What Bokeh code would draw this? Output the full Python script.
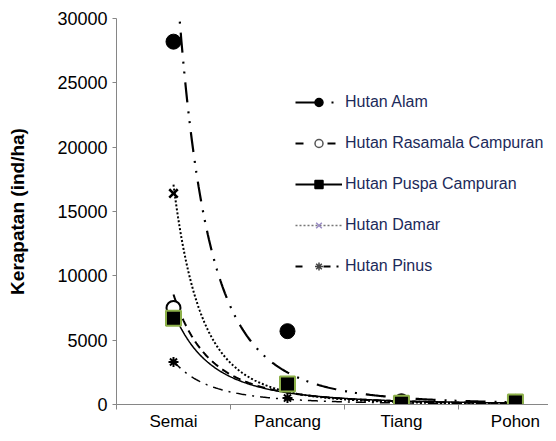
import numpy as np
from bokeh.plotting import figure
from bokeh.models import (ColumnDataSource, FixedTicker, Range1d, Legend, LegendItem)
from bokeh.embed import file_html
from bokeh.resources import INLINE

# ---- data ----
categories = ["Semai", "Pancang", "Tiang", "Pohon"]
x_pos = [1, 2, 3, 4]
hutan_alam = [28200, 5700, 250, 200]
hutan_rasamala = [7500, 1500, 150, 120]
hutan_puspa = [6700, 1600, 100, 200]
hutan_damar = [16400, 1400, 100, 80]
hutan_pinus = [3300, 500, 80, 60]
y_ticks = [0, 5000, 10000, 15000, 20000, 25000, 30000]
series_names = ["Hutan Alam", "Hutan Rasamala Campuran", "Hutan Puspa Campuran",
                "Hutan Damar", "Hutan Pinus"]
y_title = "Kerapatan (ind/ha)"

p = figure(width=548, height=433, output_backend="svg", toolbar_location=None,
           x_range=Range1d(0.5, 4.29), y_range=Range1d(0, 30000),
           min_border_left=116, min_border_right=0, min_border_top=18,
           min_border_bottom=27)
p.outline_line_color = None
p.xgrid.visible = False
p.ygrid.visible = False
p.background_fill_color = "white"
p.border_fill_color = "white"

# ---- axes ----
p.xaxis.ticker = FixedTicker(ticks=x_pos, minor_ticks=[0.5, 1.5, 2.5, 3.5, 4.5])
p.xaxis.major_label_overrides = {x: c for x, c in zip(x_pos, categories)}
p.xaxis.major_tick_out = 0
p.xaxis.major_tick_in = 0
p.xaxis.minor_tick_out = 5
p.xaxis.minor_tick_in = 0
p.xaxis.minor_tick_line_color = "#868686"
p.xaxis.axis_line_color = "#868686"
p.xaxis.major_label_text_font = "Liberation Sans"
p.xaxis.major_label_text_font_size = "17px"
p.xaxis.major_label_text_color = "black"
p.xaxis.major_label_standoff = 2

p.yaxis.ticker = FixedTicker(ticks=y_ticks, minor_ticks=[])
p.yaxis.major_label_overrides = {t: str(t) for t in y_ticks}
p.yaxis.axis_line_color = "#868686"
p.yaxis.major_tick_line_color = "#868686"
p.yaxis.major_tick_out = 4
p.yaxis.major_tick_in = 0
p.yaxis.minor_tick_out = 0
p.yaxis.minor_tick_in = 0
p.yaxis.major_label_text_font = "Liberation Sans"
p.yaxis.major_label_text_font_size = "18px"
p.yaxis.major_label_text_color = "black"
p.yaxis.major_label_standoff = 5
p.yaxis.axis_label = y_title
p.yaxis.axis_label_text_font = "Liberation Sans"
p.yaxis.axis_label_text_font_style = "bold"
p.yaxis.axis_label_text_font_size = "19px"
p.yaxis.axis_label_text_color = "black"
p.yaxis.axis_label_standoff = 26

# ---- power trendlines (least squares on log-log) ----
xs = np.linspace(1, 4, 300)

def trend(vals):
    b, ln_a = np.polyfit(np.log(np.array(x_pos, float)), np.log(np.array(vals, float)), 1)
    return np.exp(ln_a) * xs ** b

p.line(xs, trend(hutan_alam), line_color="black", line_width=2.2, line_dash="20 9 2 8 2 9")
p.line(xs, trend(hutan_rasamala), line_color="black", line_width=2, line_dash="8 5")
p.line(xs, trend(hutan_damar), line_color="black", line_width=2, line_dash="2 2")
p.line(xs, trend(hutan_pinus), line_color="black", line_width=1.5, line_dash="10 6 2 6")
p.line(xs, trend(hutan_puspa), line_color="black", line_width=1.5)

# ---- markers ----
p.scatter(x_pos, hutan_alam, marker="circle", size=15, fill_color="black", line_color="black")
p.scatter(x_pos, hutan_rasamala, marker="circle", size=14, fill_color="white",
          line_color="black", line_width=2)
p.scatter(x_pos, hutan_damar, marker="x", size=12, line_color="black", line_width=2.5)
p.scatter(x_pos, hutan_pinus, marker="asterisk", size=10, line_color="black", line_width=2)
p.scatter(x_pos, hutan_puspa, marker="square", size=15, fill_color="black",
          line_color="#8db04a", line_width=2)

# ---- legend-only renderers (no visible data) ----
proxy = dict(x=[np.nan], y=[np.nan])
leg_specs = [
    dict(dash="20 16 2 20", lw=2, lc="black", marker="circle", fc="black", mc="black"),
    dict(dash="8 24 8 30", lw=2, lc="black", marker="circle", fc="white", mc="#555555"),
    dict(dash="solid", lw=2, lc="black", marker="square", fc="black", mc="black"),
    dict(dash="2 2", lw=1.5, lc="#777777", marker="x", fc=None, mc="#9a8cc4"),
    dict(dash="7 21 7 6 2 30", lw=2, lc="black", marker="asterisk", fc=None, mc="#444444"),
]
items = []
for name, s in zip(series_names, leg_specs):
    lr = p.line("x", "y", source=ColumnDataSource(proxy), line_color=s["lc"],
                line_width=s["lw"], line_dash=s["dash"])
    sr = p.scatter("x", "y", source=ColumnDataSource(proxy), marker=s["marker"],
                   fill_color=s["fc"], line_color=s["mc"], line_width=1.5)
    items.append(LegendItem(label=name, renderers=[lr, sr]))

legend = Legend(items=items, location=(179, 128), orientation="vertical",
                glyph_width=47, glyph_height=20, label_height=20, spacing=21,
                label_standoff=3, padding=0, margin=0,
                border_line_color=None, background_fill_alpha=0,
                label_text_font="Liberation Sans", label_text_font_size="16px",
                label_text_color="#1c2a5a")
p.add_layout(legend, "center")

open("out.html", "w").write(file_html(p, INLINE))
